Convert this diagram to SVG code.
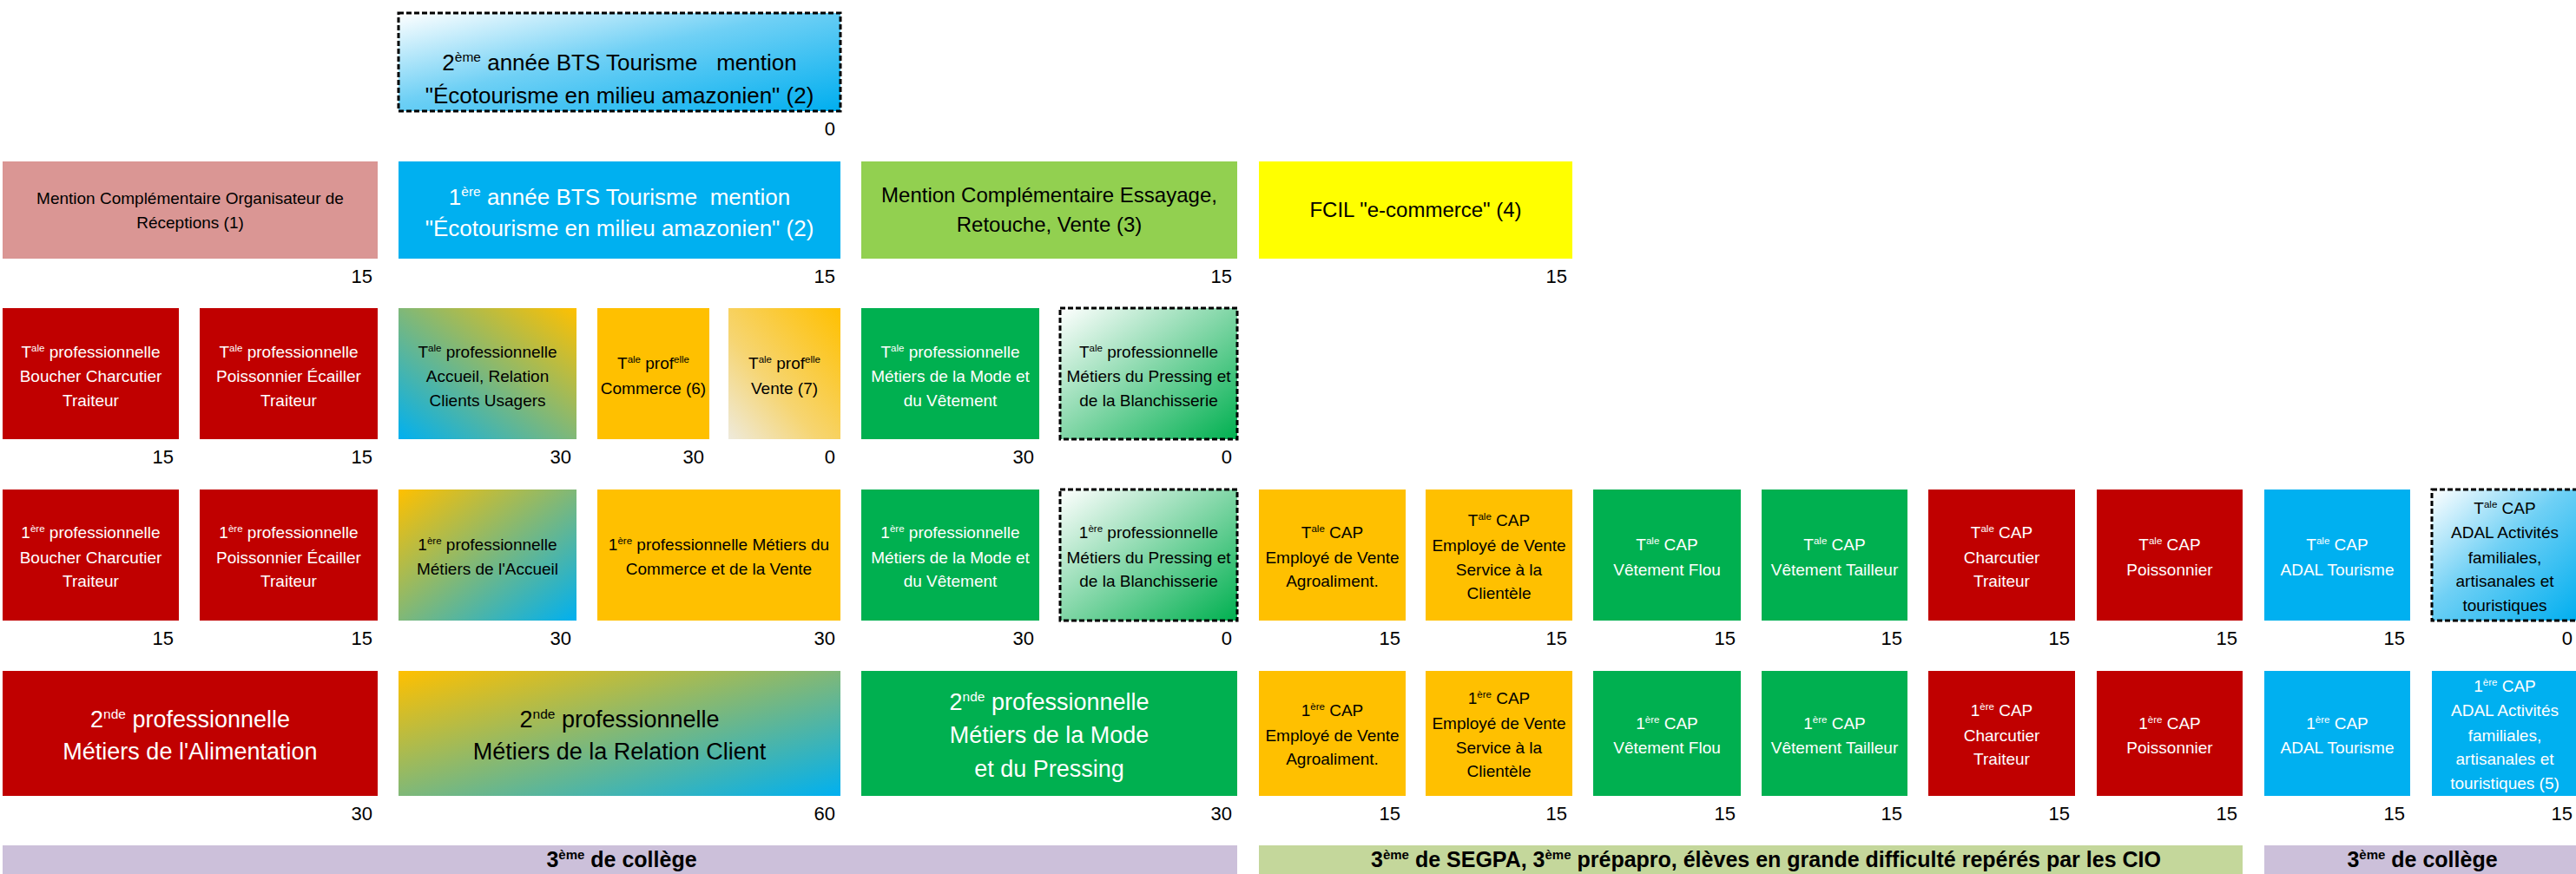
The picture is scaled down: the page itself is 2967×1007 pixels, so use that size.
<svg xmlns="http://www.w3.org/2000/svg" width="2967" height="1007" viewBox="0 0 2967 1007">
<style>
text{font-family:"Liberation Sans",Arial,sans-serif;text-anchor:middle}
.s{font-size:19px}
.m{font-size:24px}
.l{font-size:26px}
.xl{font-size:27px}
.s .sp{font-size:11.5px}
.m .sp,.l .sp,.xl .sp{font-size:15.5px}
.w{fill:#ffffff}
.k{fill:#000000}
.v{font-size:22px;text-anchor:end;fill:#000}
.bar{font-size:25px;font-weight:bold;fill:#000}
.bar .sp{font-size:15px}
.dash{stroke:#000;stroke-width:3;stroke-dasharray:6 3}
</style>
<defs>
<linearGradient id="gBG" x1="0" y1="1" x2="1" y2="0"><stop offset="0" stop-color="#00B0F0"/><stop offset="1" stop-color="#FFC000"/></linearGradient>
<linearGradient id="gGB" x1="0" y1="0" x2="1" y2="1"><stop offset="0" stop-color="#FFC000"/><stop offset="1" stop-color="#00B0F0"/></linearGradient>
<linearGradient id="gWGold" x1="0" y1="1" x2="1" y2="0"><stop offset="0" stop-color="#EEEADC"/><stop offset="0.4" stop-color="#F6D572"/><stop offset="1" stop-color="#FFC000"/></linearGradient>
<linearGradient id="gWB" x1="0" y1="0" x2="1" y2="1"><stop offset="0" stop-color="#FFFFFF"/><stop offset="0.45" stop-color="#6FD0F5"/><stop offset="1" stop-color="#00AEEF"/></linearGradient>
<linearGradient id="gWG" x1="0" y1="0" x2="1" y2="1"><stop offset="0" stop-color="#FFFFFF"/><stop offset="0.5" stop-color="#80D6A6"/><stop offset="1" stop-color="#00B050"/></linearGradient>
</defs>
<rect width="2967" height="1007" fill="#ffffff"/>

<!-- Row 0 -->
<g id="bts2">
<rect x="459" y="15" width="509" height="113" fill="url(#gWB)" class="dash"/>
<text class="l k" x="713.5" y="81">2<tspan class="sp" dy="-10">ème</tspan><tspan dy="10"> année BTS Tourisme&#160;&#160; mention</tspan></text>
<text class="l k" x="713.5" y="119">"Écotourisme en milieu amazonien" (2)</text>
<text class="v" x="962" y="156">0</text>
</g>

<!-- Row 1 -->
<g id="mc-organisateur">
<rect x="3" y="186" width="432" height="112" fill="#DA9694"/>
<text class="s k" x="219" y="235">Mention Complémentaire Organisateur de</text>
<text class="s k" x="219" y="263">Réceptions (1)</text>
<text class="v" x="429" y="326">15</text>
</g>
<g id="bts1">
<rect x="459" y="186" width="509" height="112" fill="#00B0F0"/>
<text class="l w" x="713.5" y="236">1<tspan class="sp" dy="-10">ère</tspan><tspan dy="10"> année BTS Tourisme&#160; mention</tspan></text>
<text class="l w" x="713.5" y="272">"Écotourisme en milieu amazonien" (2)</text>
<text class="v" x="962" y="326">15</text>
</g>
<g id="mc-essayage">
<rect x="992" y="186" width="433" height="112" fill="#92D050"/>
<text class="m k" x="1208.5" y="233">Mention Complémentaire Essayage,</text>
<text class="m k" x="1208.5" y="267">Retouche, Vente (3)</text>
<text class="v" x="1419" y="326">15</text>
</g>
<g id="fcil">
<rect x="1450" y="186" width="361" height="112" fill="#FFFF00"/>
<text class="m k" x="1630.5" y="250">FCIL "e-commerce" (4)</text>
<text class="v" x="1805" y="326">15</text>
</g>

<!-- Row 2 -->
<g id="tale-boucher">
<rect x="3" y="355" width="203" height="151" fill="#C00000"/>
<text class="s w" x="104.5" y="412">T<tspan class="sp" dy="-7">ale</tspan><tspan dy="7"> professionnelle</tspan></text>
<text class="s w" x="104.5" y="440">Boucher Charcutier</text>
<text class="s w" x="104.5" y="468">Traiteur</text>
<text class="v" x="200" y="534">15</text>
</g>
<g id="tale-poissonnier">
<rect x="230" y="355" width="205" height="151" fill="#C00000"/>
<text class="s w" x="332.5" y="412">T<tspan class="sp" dy="-7">ale</tspan><tspan dy="7"> professionnelle</tspan></text>
<text class="s w" x="332.5" y="440">Poissonnier Écailler</text>
<text class="s w" x="332.5" y="468">Traiteur</text>
<text class="v" x="429" y="534">15</text>
</g>
<g id="tale-accueil">
<rect x="459" y="355" width="205" height="151" fill="url(#gBG)"/>
<text class="s k" x="561.5" y="412">T<tspan class="sp" dy="-7">ale</tspan><tspan dy="7"> professionnelle</tspan></text>
<text class="s k" x="561.5" y="440">Accueil, Relation</text>
<text class="s k" x="561.5" y="468">Clients Usagers</text>
<text class="v" x="658" y="534">30</text>
</g>
<g id="tale-commerce">
<rect x="688" y="355" width="129" height="151" fill="#FFC000"/>
<text class="s k" x="752.5" y="425">T<tspan class="sp" dy="-7">ale</tspan><tspan dy="7"> prof</tspan><tspan class="sp" dy="-7">elle</tspan></text>
<text class="s k" x="752.5" y="454">Commerce (6)</text>
<text class="v" x="811" y="534">30</text>
</g>
<g id="tale-vente">
<rect x="839" y="355" width="129" height="151" fill="url(#gWGold)"/>
<text class="s k" x="903.5" y="425">T<tspan class="sp" dy="-7">ale</tspan><tspan dy="7"> prof</tspan><tspan class="sp" dy="-7">elle</tspan></text>
<text class="s k" x="903.5" y="454">Vente (7)</text>
<text class="v" x="962" y="534">0</text>
</g>
<g id="tale-mode">
<rect x="992" y="355" width="205" height="151" fill="#00B050"/>
<text class="s w" x="1094.5" y="412">T<tspan class="sp" dy="-7">ale</tspan><tspan dy="7"> professionnelle</tspan></text>
<text class="s w" x="1094.5" y="440">Métiers de la Mode et</text>
<text class="s w" x="1094.5" y="468">du Vêtement</text>
<text class="v" x="1191" y="534">30</text>
</g>
<g id="tale-pressing">
<rect x="1221" y="355" width="204" height="151" fill="url(#gWG)" class="dash"/>
<text class="s k" x="1323" y="412">T<tspan class="sp" dy="-7">ale</tspan><tspan dy="7"> professionnelle</tspan></text>
<text class="s k" x="1323" y="440">Métiers du Pressing et</text>
<text class="s k" x="1323" y="468">de la Blanchisserie</text>
<text class="v" x="1419" y="534">0</text>
</g>

<!-- Row 3 -->
<g id="pre-boucher">
<rect x="3" y="564" width="203" height="151" fill="#C00000"/>
<text class="s w" x="104.5" y="620">1<tspan class="sp" dy="-7">ère</tspan><tspan dy="7"> professionnelle</tspan></text>
<text class="s w" x="104.5" y="649">Boucher Charcutier</text>
<text class="s w" x="104.5" y="676">Traiteur</text>
<text class="v" x="200" y="743">15</text>
</g>
<g id="pre-poissonnier">
<rect x="230" y="564" width="205" height="151" fill="#C00000"/>
<text class="s w" x="332.5" y="620">1<tspan class="sp" dy="-7">ère</tspan><tspan dy="7"> professionnelle</tspan></text>
<text class="s w" x="332.5" y="649">Poissonnier Écailler</text>
<text class="s w" x="332.5" y="676">Traiteur</text>
<text class="v" x="429" y="743">15</text>
</g>
<g id="pre-accueil">
<rect x="459" y="564" width="205" height="151" fill="url(#gGB)"/>
<text class="s k" x="561.5" y="634">1<tspan class="sp" dy="-7">ère</tspan><tspan dy="7"> professionnelle</tspan></text>
<text class="s k" x="561.5" y="662">Métiers de l'Accueil</text>
<text class="v" x="658" y="743">30</text>
</g>
<g id="pre-commerce">
<rect x="688" y="564" width="280" height="151" fill="#FFC000"/>
<text class="s k" x="828" y="634">1<tspan class="sp" dy="-7">ère</tspan><tspan dy="7"> professionnelle Métiers du</tspan></text>
<text class="s k" x="828" y="662">Commerce et de la Vente</text>
<text class="v" x="962" y="743">30</text>
</g>
<g id="pre-mode">
<rect x="992" y="564" width="205" height="151" fill="#00B050"/>
<text class="s w" x="1094.5" y="620">1<tspan class="sp" dy="-7">ère</tspan><tspan dy="7"> professionnelle</tspan></text>
<text class="s w" x="1094.5" y="649">Métiers de la Mode et</text>
<text class="s w" x="1094.5" y="676">du Vêtement</text>
<text class="v" x="1191" y="743">30</text>
</g>
<g id="pre-pressing">
<rect x="1221" y="564" width="204" height="151" fill="url(#gWG)" class="dash"/>
<text class="s k" x="1323" y="620">1<tspan class="sp" dy="-7">ère</tspan><tspan dy="7"> professionnelle</tspan></text>
<text class="s k" x="1323" y="649">Métiers du Pressing et</text>
<text class="s k" x="1323" y="676">de la Blanchisserie</text>
<text class="v" x="1419" y="743">0</text>
</g>
<g id="tcap-agro">
<rect x="1450" y="564" width="169" height="151" fill="#FFC000"/>
<text class="s k" x="1534.5" y="620">T<tspan class="sp" dy="-7">ale</tspan><tspan dy="7"> CAP</tspan></text>
<text class="s k" x="1534.5" y="649">Employé de Vente</text>
<text class="s k" x="1534.5" y="676">Agroaliment.</text>
<text class="v" x="1613" y="743">15</text>
</g>
<g id="tcap-service">
<rect x="1642" y="564" width="169" height="151" fill="#FFC000"/>
<text class="s k" x="1726.5" y="606">T<tspan class="sp" dy="-7">ale</tspan><tspan dy="7"> CAP</tspan></text>
<text class="s k" x="1726.5" y="635">Employé de Vente</text>
<text class="s k" x="1726.5" y="663">Service à la</text>
<text class="s k" x="1726.5" y="690">Clientèle</text>
<text class="v" x="1805" y="743">15</text>
</g>
<g id="tcap-flou">
<rect x="1835" y="564" width="170" height="151" fill="#00B050"/>
<text class="s w" x="1920" y="634">T<tspan class="sp" dy="-7">ale</tspan><tspan dy="7"> CAP</tspan></text>
<text class="s w" x="1920" y="663">Vêtement Flou</text>
<text class="v" x="1999" y="743">15</text>
</g>
<g id="tcap-tailleur">
<rect x="2029" y="564" width="168" height="151" fill="#00B050"/>
<text class="s w" x="2113" y="634">T<tspan class="sp" dy="-7">ale</tspan><tspan dy="7"> CAP</tspan></text>
<text class="s w" x="2113" y="663">Vêtement Tailleur</text>
<text class="v" x="2191" y="743">15</text>
</g>
<g id="tcap-charcutier">
<rect x="2221" y="564" width="169" height="151" fill="#C00000"/>
<text class="s w" x="2305.5" y="620">T<tspan class="sp" dy="-7">ale</tspan><tspan dy="7"> CAP</tspan></text>
<text class="s w" x="2305.5" y="649">Charcutier</text>
<text class="s w" x="2305.5" y="676">Traiteur</text>
<text class="v" x="2384" y="743">15</text>
</g>
<g id="tcap-poissonnier">
<rect x="2415" y="564" width="168" height="151" fill="#C00000"/>
<text class="s w" x="2499" y="634">T<tspan class="sp" dy="-7">ale</tspan><tspan dy="7"> CAP</tspan></text>
<text class="s w" x="2499" y="663">Poissonnier</text>
<text class="v" x="2577" y="743">15</text>
</g>
<g id="tcap-adal-tourisme">
<rect x="2608" y="564" width="168" height="151" fill="#00B0F0"/>
<text class="s w" x="2692" y="634">T<tspan class="sp" dy="-7">ale</tspan><tspan dy="7"> CAP</tspan></text>
<text class="s w" x="2692" y="663">ADAL Tourisme</text>
<text class="v" x="2770" y="743">15</text>
</g>
<g id="tcap-adal-activites">
<rect x="2801" y="564" width="169" height="151" fill="url(#gWB)" class="dash"/>
<text class="s k" x="2885" y="592">T<tspan class="sp" dy="-7">ale</tspan><tspan dy="7"> CAP</tspan></text>
<text class="s k" x="2885" y="620">ADAL Activités</text>
<text class="s k" x="2885" y="649">familiales,</text>
<text class="s k" x="2885" y="676">artisanales et</text>
<text class="s k" x="2885" y="704">touristiques</text>
<text class="v" x="2963" y="743">0</text>
</g>

<!-- Row 4 -->
<g id="sec-alimentation">
<rect x="3" y="773" width="432" height="144" fill="#C00000"/>
<text class="xl w" x="219" y="838">2<tspan class="sp" dy="-10">nde</tspan><tspan dy="10"> professionnelle</tspan></text>
<text class="xl w" x="219" y="875">Métiers de l'Alimentation</text>
<text class="v" x="429" y="945">30</text>
</g>
<g id="sec-relation-client">
<rect x="459" y="773" width="509" height="144" fill="url(#gGB)"/>
<text class="xl k" x="713.5" y="838">2<tspan class="sp" dy="-10">nde</tspan><tspan dy="10"> professionnelle</tspan></text>
<text class="xl k" x="713.5" y="875">Métiers de la Relation Client</text>
<text class="v" x="962" y="945">60</text>
</g>
<g id="sec-mode-pressing">
<rect x="992" y="773" width="433" height="144" fill="#00B050"/>
<text class="xl w" x="1208.5" y="818">2<tspan class="sp" dy="-10">nde</tspan><tspan dy="10"> professionnelle</tspan></text>
<text class="xl w" x="1208.5" y="856">Métiers de la Mode</text>
<text class="xl w" x="1208.5" y="895">et du Pressing</text>
<text class="v" x="1419" y="945">30</text>
</g>
<g id="cap1-agro">
<rect x="1450" y="773" width="169" height="144" fill="#FFC000"/>
<text class="s k" x="1534.5" y="825">1<tspan class="sp" dy="-7">ère</tspan><tspan dy="7"> CAP</tspan></text>
<text class="s k" x="1534.5" y="854">Employé de Vente</text>
<text class="s k" x="1534.5" y="881">Agroaliment.</text>
<text class="v" x="1613" y="945">15</text>
</g>
<g id="cap1-service">
<rect x="1642" y="773" width="169" height="144" fill="#FFC000"/>
<text class="s k" x="1726.5" y="811">1<tspan class="sp" dy="-7">ère</tspan><tspan dy="7"> CAP</tspan></text>
<text class="s k" x="1726.5" y="840">Employé de Vente</text>
<text class="s k" x="1726.5" y="868">Service à la</text>
<text class="s k" x="1726.5" y="895">Clientèle</text>
<text class="v" x="1805" y="945">15</text>
</g>
<g id="cap1-flou">
<rect x="1835" y="773" width="170" height="144" fill="#00B050"/>
<text class="s w" x="1920" y="840">1<tspan class="sp" dy="-7">ère</tspan><tspan dy="7"> CAP</tspan></text>
<text class="s w" x="1920" y="868">Vêtement Flou</text>
<text class="v" x="1999" y="945">15</text>
</g>
<g id="cap1-tailleur">
<rect x="2029" y="773" width="168" height="144" fill="#00B050"/>
<text class="s w" x="2113" y="840">1<tspan class="sp" dy="-7">ère</tspan><tspan dy="7"> CAP</tspan></text>
<text class="s w" x="2113" y="868">Vêtement Tailleur</text>
<text class="v" x="2191" y="945">15</text>
</g>
<g id="cap1-charcutier">
<rect x="2221" y="773" width="169" height="144" fill="#C00000"/>
<text class="s w" x="2305.5" y="825">1<tspan class="sp" dy="-7">ère</tspan><tspan dy="7"> CAP</tspan></text>
<text class="s w" x="2305.5" y="854">Charcutier</text>
<text class="s w" x="2305.5" y="881">Traiteur</text>
<text class="v" x="2384" y="945">15</text>
</g>
<g id="cap1-poissonnier">
<rect x="2415" y="773" width="168" height="144" fill="#C00000"/>
<text class="s w" x="2499" y="840">1<tspan class="sp" dy="-7">ère</tspan><tspan dy="7"> CAP</tspan></text>
<text class="s w" x="2499" y="868">Poissonnier</text>
<text class="v" x="2577" y="945">15</text>
</g>
<g id="cap1-adal-tourisme">
<rect x="2608" y="773" width="168" height="144" fill="#00B0F0"/>
<text class="s w" x="2692" y="840">1<tspan class="sp" dy="-7">ère</tspan><tspan dy="7"> CAP</tspan></text>
<text class="s w" x="2692" y="868">ADAL Tourisme</text>
<text class="v" x="2770" y="945">15</text>
</g>
<g id="cap1-adal-activites">
<rect x="2801" y="773" width="169" height="144" fill="#00B0F0"/>
<text class="s w" x="2885" y="797">1<tspan class="sp" dy="-7">ère</tspan><tspan dy="7"> CAP</tspan></text>
<text class="s w" x="2885" y="825">ADAL Activités</text>
<text class="s w" x="2885" y="854">familiales,</text>
<text class="s w" x="2885" y="881">artisanales et</text>
<text class="s w" x="2885" y="909">touristiques (5)</text>
<text class="v" x="2963" y="945">15</text>
</g>

<!-- Bottom bars -->
<g id="bar-college-1">
<rect x="3" y="974" width="1422" height="40" fill="#CCC0DA"/>
<text class="bar" x="716" y="999">3<tspan class="sp" dy="-9">ème</tspan><tspan dy="9"> de collège</tspan></text>
</g>
<g id="bar-segpa">
<rect x="1450" y="974" width="1133" height="40" fill="#C4D79B"/>
<text class="bar" x="2034" y="999">3<tspan class="sp" dy="-9">ème</tspan><tspan dy="9"> de SEGPA, 3</tspan><tspan class="sp" dy="-9">ème</tspan><tspan dy="9"> prépapro, élèves en grande difficulté repérés par les CIO</tspan></text>
</g>
<g id="bar-college-2">
<rect x="2608" y="974" width="362" height="40" fill="#CCC0DA"/>
<text class="bar" x="2790" y="999">3<tspan class="sp" dy="-9">ème</tspan><tspan dy="9"> de collège</tspan></text>
</g>

<g id="connectors"></g>
</svg>
